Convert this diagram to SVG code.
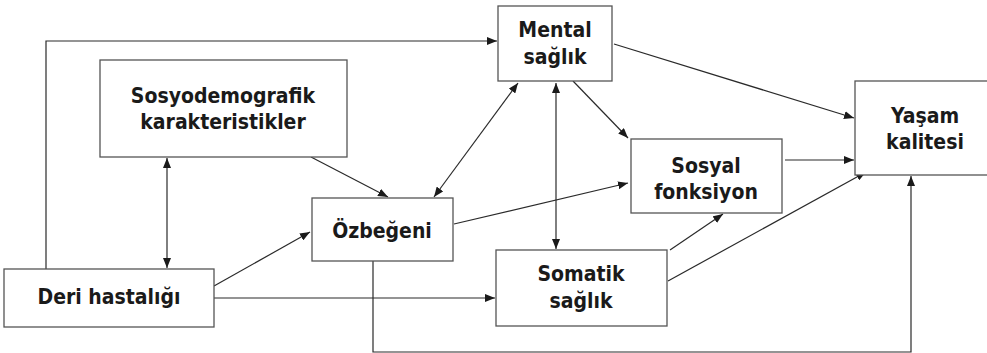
<svg xmlns="http://www.w3.org/2000/svg" width="987" height="353" viewBox="0 0 987 353">
  <style>
    .box { fill: #ffffff; stroke: #555555; stroke-width: 1.3; }
    .lbl { font-family: "DejaVu Sans Condensed", "DejaVu Sans", sans-serif; font-weight: bold; font-size: 21px; fill: #1a1a1a; text-anchor: middle; }
    .link { fill: none; stroke: #2a2a2a; stroke-width: 1.2; }
  </style>
  <defs>
    <marker id="arrow" viewBox="0 0 10 8" refX="10" refY="4" markerWidth="10" markerHeight="8" markerUnits="userSpaceOnUse" orient="auto-start-reverse">
      <path d="M0,0 L10,4 L0,8 Z" fill="#1a1a1a"/>
    </marker>
  </defs>
  <rect width="987" height="353" fill="#ffffff"/>

  <g id="connectors">
    <!-- Deri hastalığı -> Mental sağlık (around the top) -->
    <path class="link" d="M46,269 V41 H497" marker-end="url(#arrow)"/>
    <!-- Sosyodemografik <-> Deri hastalığı -->
    <path class="link" d="M167,158 V268" marker-start="url(#arrow)" marker-end="url(#arrow)"/>
    <!-- Sosyodemografik -> Özbeğeni -->
    <path class="link" d="M311,157 L388,197" marker-end="url(#arrow)"/>
    <!-- Mental <-> Özbeğeni -->
    <path class="link" d="M518,83 L434,197" marker-start="url(#arrow)" marker-end="url(#arrow)"/>
    <!-- Mental <-> Somatik -->
    <path class="link" d="M556,83 V249" marker-start="url(#arrow)" marker-end="url(#arrow)"/>
    <!-- Mental -> Sosyal -->
    <path class="link" d="M573,81 L628,138" marker-end="url(#arrow)"/>
    <!-- Mental -> Yaşam -->
    <path class="link" d="M614,44 L854,118" marker-end="url(#arrow)"/>
    <!-- Sosyal -> Yaşam -->
    <path class="link" d="M785,160 H854" marker-end="url(#arrow)"/>
    <!-- Özbeğeni -> Sosyal -->
    <path class="link" d="M454,224 L628,183" marker-end="url(#arrow)"/>
    <!-- Deri -> Özbeğeni -->
    <path class="link" d="M214,286 L310,232" marker-end="url(#arrow)"/>
    <!-- Deri -> Somatik -->
    <path class="link" d="M214,298 H495" marker-end="url(#arrow)"/>
    <!-- Özbeğeni -> Yaşam (around the bottom) -->
    <path class="link" d="M373,261 V352 H911 V176" marker-end="url(#arrow)"/>
    <!-- Somatik -> Sosyal -->
    <path class="link" d="M670,250 L723,214" marker-end="url(#arrow)"/>
    <!-- Somatik -> Yaşam -->
    <path class="link" d="M668,281 L866,172" marker-end="url(#arrow)"/>
  </g>

  <g id="mental">
    <rect class="box" x="498" y="6" width="114" height="75"/>
    <text class="lbl" x="555" y="37">Mental</text>
    <text class="lbl" x="555" y="64">sağlık</text>
  </g>
  <g id="sosyodemografik">
    <rect class="box" x="100" y="60" width="247" height="97"/>
    <text class="lbl" x="223" y="103">Sosyodemografik</text>
    <text class="lbl" x="223" y="129">karakteristikler</text>
  </g>
  <g id="yasam">
    <rect class="box" x="855" y="81" width="140" height="94"/>
    <text class="lbl" x="925" y="123">Yaşam</text>
    <text class="lbl" x="925" y="149">kalitesi</text>
  </g>
  <g id="sosyal">
    <rect class="box" x="631" y="139" width="151" height="74"/>
    <text class="lbl" x="706" y="173">Sosyal</text>
    <text class="lbl" x="706" y="199">fonksiyon</text>
  </g>
  <g id="ozbegeni">
    <rect class="box" x="312" y="198" width="141" height="63"/>
    <text class="lbl" x="382" y="238">Özbeğeni</text>
  </g>
  <g id="deri">
    <rect class="box" x="4" y="269" width="210" height="58"/>
    <text class="lbl" x="109" y="304">Deri hastalığı</text>
  </g>
  <g id="somatik">
    <rect class="box" x="496" y="250" width="171" height="76"/>
    <text class="lbl" x="581" y="281">Somatik</text>
    <text class="lbl" x="581" y="308">sağlık</text>
  </g>
</svg>
